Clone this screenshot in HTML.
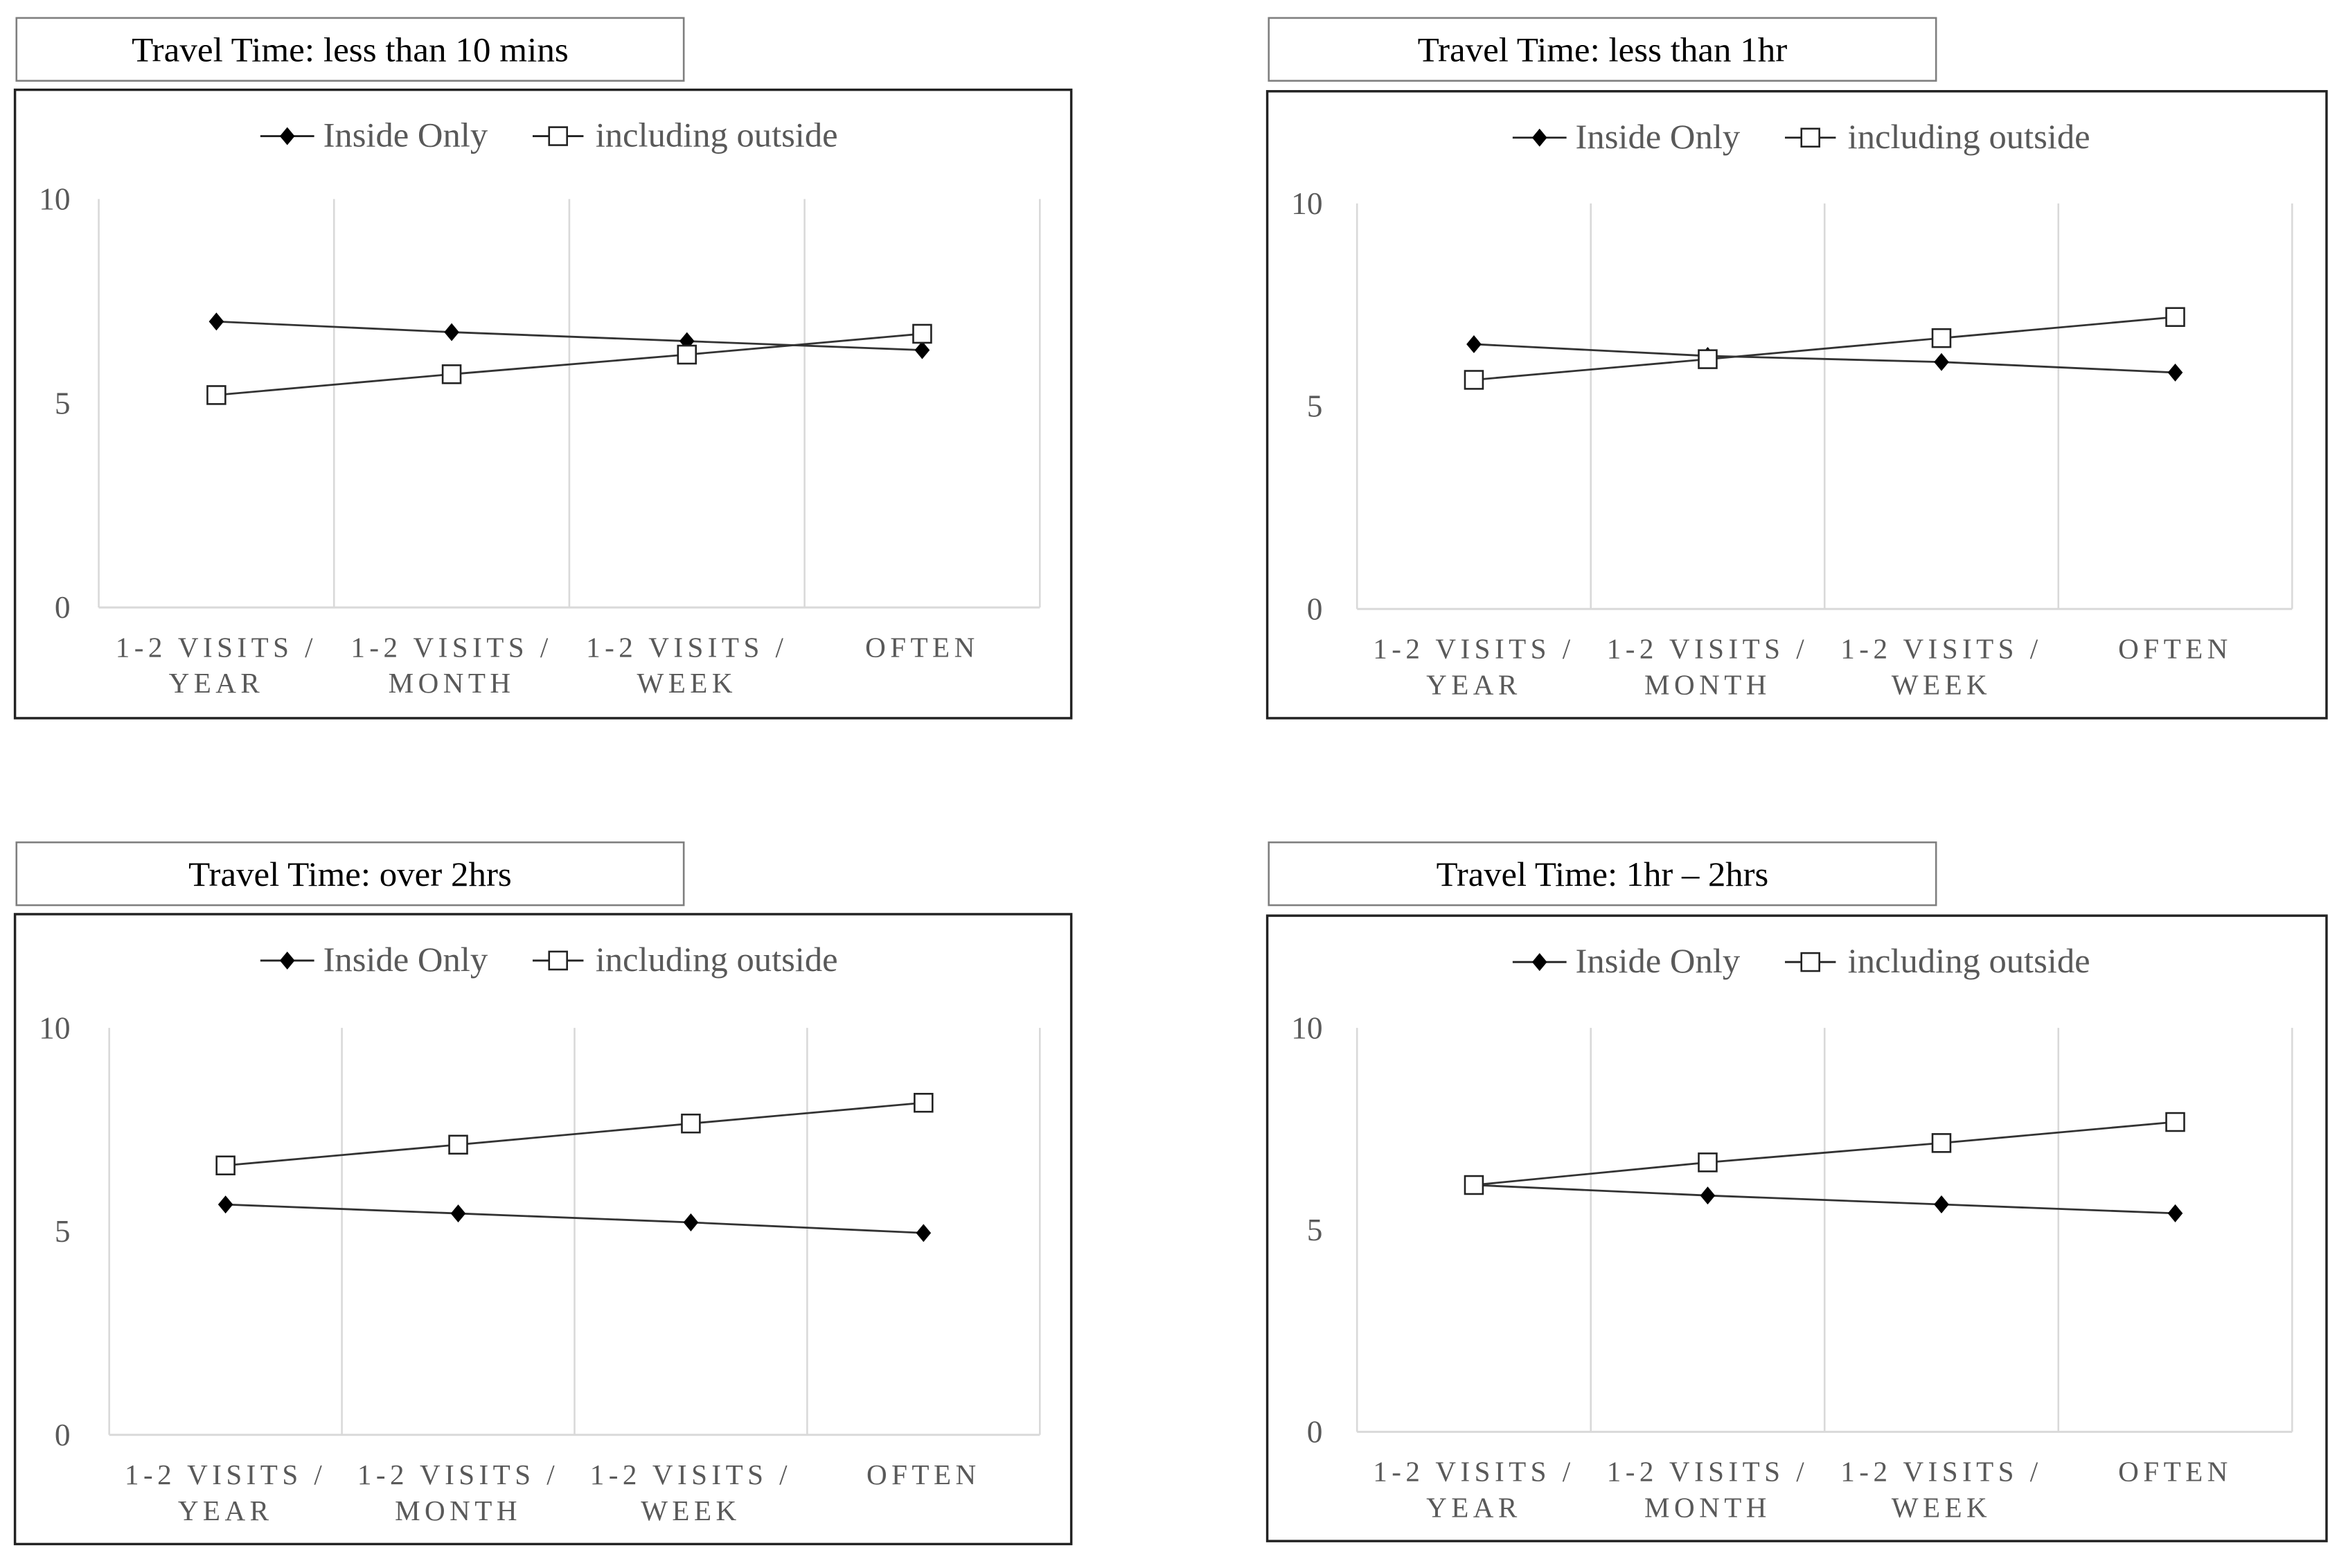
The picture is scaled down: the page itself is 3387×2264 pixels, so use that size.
<!DOCTYPE html>
<html><head><meta charset="utf-8"><style>
html,body{margin:0;padding:0;background:#fff;}
svg{display:block;}
text{font-family:"Liberation Serif",serif;}
</style></head>
<body>
<svg id="fig" width="3387" height="2264" viewBox="0 0 1568 1048" preserveAspectRatio="none" xmlns="http://www.w3.org/2000/svg"></svg>
<script>
const categories = [["1-2 VISITS /","YEAR"],["1-2 VISITS /","MONTH"],["1-2 VISITS /","WEEK"],["OFTEN",""]];
const yTicks = [0,5,10];
const titles = ["Travel Time: less than 10 mins","Travel Time: less than 1hr","Travel Time: over 2hrs","Travel Time: 1hr \u2013 2hrs"];
const titleWidths = [292,247,216,222];
const insideLt10 = [7.0,6.74,6.52,6.3];
const outsideLt10 = [5.2,5.71,6.19,6.7];
const insideLt1h = [6.53,6.24,6.09,5.83];
const outsideLt1h = [5.65,6.16,6.68,7.2];
const insideOver2h = [5.66,5.44,5.22,4.96];
const outsideOver2h = [6.62,7.13,7.65,8.16];
const inside1to2h = [6.11,5.85,5.63,5.41];
const outside1to2h = [6.11,6.67,7.15,7.67];

const NS="http://www.w3.org/2000/svg";
const svg=document.getElementById('fig');
function mk(tag,attrs,parent){const e=document.createElementNS(NS,tag);for(const k in attrs)e.setAttribute(k,attrs[k]);(parent||svg).appendChild(e);return e;}

const layouts=[
 {bx:10,by:60,bw:706,bh:420,tx:11,ty:12,px0:66,px1:695,y10:133,y0:406,ins:insideLt10,out:outsideLt10},
 {bx:847,by:61,bw:708,bh:419,tx:848,ty:12,px0:907,px1:1532,y10:136,y0:407,ins:insideLt1h,out:outsideLt1h},
 {bx:10,by:611,bw:706,bh:421,tx:11,ty:563,px0:73,px1:695,y10:687,y0:959,ins:insideOver2h,out:outsideOver2h},
 {bx:847,by:612,bw:708,bh:418,tx:848,ty:563,px0:907,px1:1532,y10:687,y0:957,ins:inside1to2h,out:outside1to2h}
];

layouts.forEach((L,i)=>{
 const g=mk('g',{});
 
 
 const tb=mk('rect',{x:L.tx,y:L.ty,width:446,height:42,fill:'#fff',stroke:'#7f7f7f','stroke-width':1.2},g);
 
 
 const tt=mk('text',{x:L.tx+223,y:L.ty+29,'text-anchor':'middle','font-size':23,fill:'#000',textLength:titleWidths[i],lengthAdjust:'spacingAndGlyphs'},g);
 tt.textContent=titles[i];
 
 
 const box=mk('rect',{x:L.bx,y:L.by,width:L.bw,height:L.bh,fill:'#fff',stroke:'#222','stroke-width':1.6},g);
 
 
 const n=categories.length;
 const bandW=(L.px1-L.px0)/n;
 const xs=k=>L.px0+bandW*(k+0.5);
 const ys=v=>L.y0-(L.y0-L.y10)*(v/10);
 for(let k=0;k<=n;k++){
  const gl=mk('line',{x1:L.px0+bandW*k,x2:L.px0+bandW*k,y1:ys(10),y2:ys(0),stroke:'#d9d9d9','stroke-width':1.2},g);
  
  
 }
 const ax=mk('line',{x1:L.px0,x2:L.px1,y1:ys(0),y2:ys(0),stroke:'#d9d9d9','stroke-width':1.4},g);
 
 
 yTicks.forEach(v=>{
  const t=mk('text',{x:L.bx+37,y:ys(v)+7,'text-anchor':'end','font-size':21,fill:'#595959'},g);
  t.textContent=String(v);
  
  
 });
 categories.forEach((c,k)=>{
  c.forEach((line,j)=>{
   if(!line)return;
   const t=mk('text',{x:xs(k),y:ys(0)+33+j*24,'text-anchor':'middle','font-size':19,fill:'#595959','letter-spacing':3},g);
   t.textContent=line;
   
   
  });
 });
 const pIn=L.ins.map((v,k)=>xs(k)+','+ys(v)).join(' ');
 const lIn=mk('polyline',{points:pIn,fill:'none',stroke:'#333','stroke-width':1.3},g);
 
 
 const pOut=L.out.map((v,k)=>xs(k)+','+ys(v)).join(' ');
 const lOut=mk('polyline',{points:pOut,fill:'none',stroke:'#333','stroke-width':1.3},g);
 
 
 L.ins.forEach((v,k)=>{
  const x=xs(k),y=ys(v);
  const d=mk('polygon',{points:`${x},${y-6} ${x+5},${y} ${x},${y+6} ${x-5},${y}`,fill:'#000'},g);
  
  
 });
 L.out.forEach((v,k)=>{
  const x=xs(k),y=ys(v);
  const s=mk('rect',{x:x-6,y:y-6,width:12,height:12,fill:'#fff',stroke:'#222','stroke-width':1.2},g);
  
  
 });
 const ly=L.by+31, lx=L.bx+164;
 const lg=mk('g',{},g);
 
 
 mk('line',{x1:lx,x2:lx+36,y1:ly,y2:ly,stroke:'#222','stroke-width':1.3},lg);
 mk('polygon',{points:`${lx+18},${ly-6} ${lx+23},${ly} ${lx+18},${ly+6} ${lx+13},${ly}`,fill:'#000'},lg);
 const t1=mk('text',{x:lx+42,y:ly+7,'font-size':23,fill:'#595959',textLength:110,lengthAdjust:'spacingAndGlyphs'},lg);
 t1.textContent='Inside Only';
 
 
 const lx2=L.bx+346;
 mk('line',{x1:lx2,x2:lx2+34,y1:ly,y2:ly,stroke:'#222','stroke-width':1.3},lg);
 mk('rect',{x:lx2+11,y:ly-6,width:12,height:12,fill:'#fff',stroke:'#222','stroke-width':1.2},lg);
 const t2=mk('text',{x:lx2+42,y:ly+7,'font-size':23,fill:'#595959',textLength:162,lengthAdjust:'spacingAndGlyphs'},lg);
 t2.textContent='including outside';
 
 
});
</script>
</body></html>
